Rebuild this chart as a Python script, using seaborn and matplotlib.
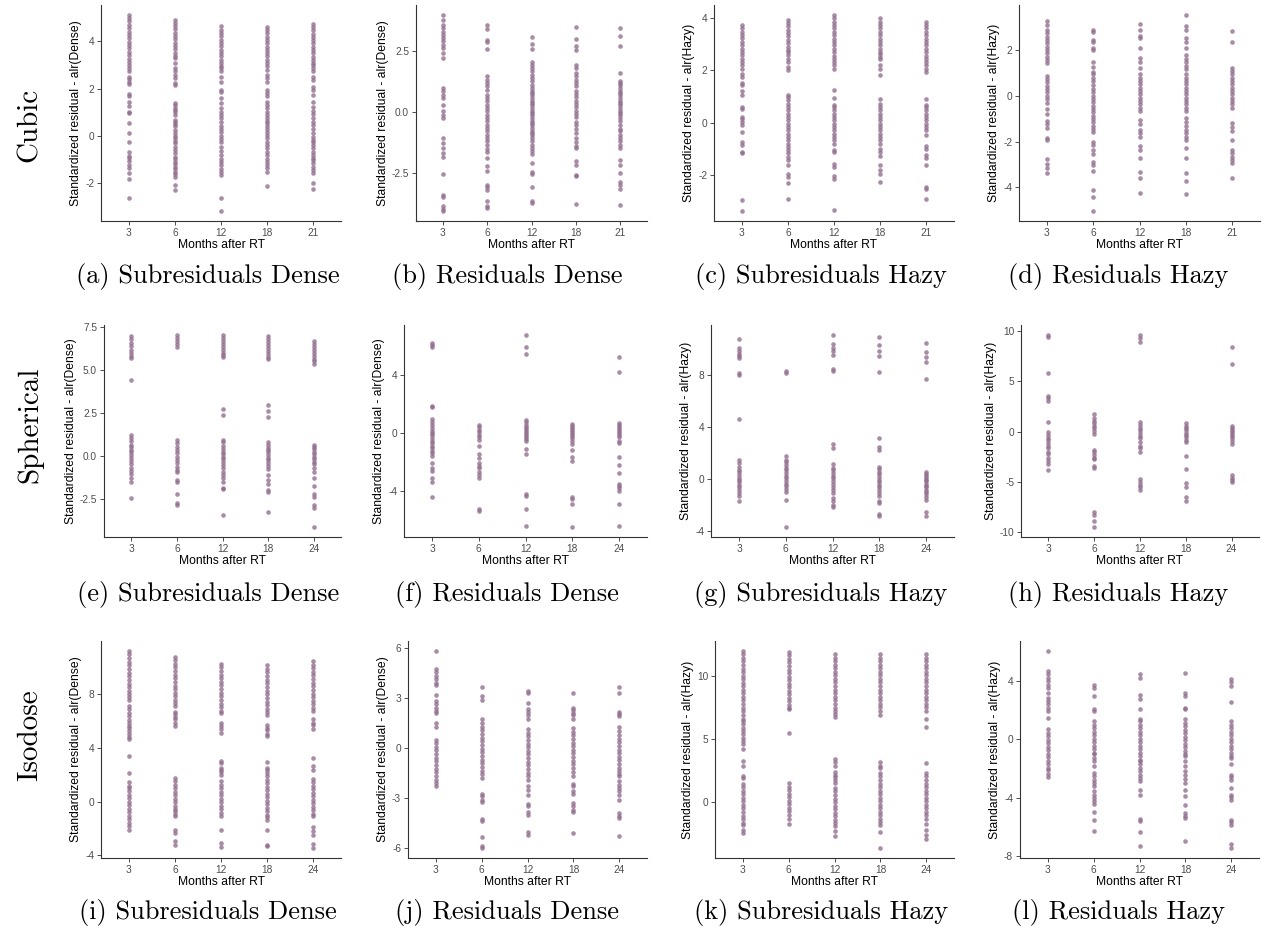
import pandas as pd
import seaborn as sns
import matplotlib.pyplot as plt

# categories
months_cubic = ["3", "6", "12", "18", "21"]
months_other = ["3", "6", "12", "18", "24"]
row_names = ["Cubic", "Spherical", "Isodose"]
captions = ["(a) Subresiduals Dense", "(b) Residuals Dense", "(c) Subresiduals Hazy", "(d) Residuals Hazy",
            "(e) Subresiduals Dense", "(f) Residuals Dense", "(g) Subresiduals Hazy", "(h) Residuals Hazy",
            "(i) Subresiduals Dense", "(j) Residuals Dense", "(k) Subresiduals Hazy", "(l) Residuals Hazy"]

# y tick labels per panel
yticks_list = [[-2, 0, 2, 4], [-2.5, 0.0, 2.5], [-2, 0, 2, 4], [-4, -2, 0, 2],
               [-2.5, 0.0, 2.5, 5.0, 7.5], [-4, 0, 4], [-4, 0, 4, 8], [-10, -5, 0, 5, 10],
               [-4, 0, 4, 8], [-6, -3, 0, 3, 6], [0, 5, 10], [-8, -4, 0, 4]]

# standardized residuals, one list per month
cubic_sub_dense = [
    [5.12, 4.98, 4.85, 4.7, 4.56, 4.41, 4.27, 4.12, 3.98, 3.84, 3.7, 3.55, 3.41, 3.27, 3.12, 2.98, 2.87,
     2.73, 2.5, 2.4, 2.3, 2.2, 1.77, 1.67, 1.45, 1.27, 1.03, 0.96, 0.54, 0.11, -0.24, -0.66, -0.83, -0.95,
     -1.06, -1.23, -1.37, -1.55, -1.84, -2.61],
    [4.92, 4.78, 4.64, 4.5, 4.36, 4.22, 4.08, 3.94, 3.8, 3.66, 3.52, 3.4, 3.29, 3.08, 2.87, 2.73, 2.58, 2.47,
     2.23, 2.16, 1.41, 1.31, 1.2, 1.1, 1.0, 0.89, 0.68, 0.61, 0.49, 0.4, 0.25, 0.11, 0.01, -0.1, -0.21, -0.31,
     -0.45, -0.59, -0.73, -0.88, -0.97, -1.09, -1.2, -1.3, -1.4, -1.51, -1.62, -1.72, -2.08, -2.29],
    [4.63, 4.49, 4.35, 4.21, 4.07, 3.93, 3.79, 3.65, 3.51, 3.37, 3.23, 3.09, 2.97, 2.87, 2.73, 2.51, 2.3, 1.95,
     1.85, 1.6, 1.38, 1.17, 1.03, 0.89, 0.75, 0.58, 0.4, 0.3, 0.16, 0.01, -0.13, -0.27, -0.45, -0.64, -0.81,
     -0.97, -1.09, -1.23, -1.4, -1.51, -1.65, -2.61, -3.18],
    [4.62, 4.48, 4.34, 4.2, 4.06, 3.92, 3.78, 3.64, 3.5, 3.36, 3.22, 3.08, 2.94, 2.8, 2.58, 2.44, 2.27, 1.95,
     1.81, 1.67, 1.45, 1.31, 1.17, 1.0, 0.89, 0.75, 0.64, 0.54, 0.44, 0.3, 0.18, 0.04, -0.1, -0.24, -0.38,
     -0.52, -0.66, -0.81, -0.97, -1.09, -1.23, -1.37, -1.51, -2.12],
    [4.75, 4.61, 4.47, 4.33, 4.19, 4.05, 3.91, 3.77, 3.63, 3.49, 3.35, 3.21, 3.09, 3.0, 2.87, 2.73, 2.51, 2.37,
     2.09, 1.95, 1.74, 1.45, 1.24, 1.06, 0.92, 0.75, 0.61, 0.47, 0.3, 0.11, -0.03, -0.17, -0.27, -0.38, -0.52,
     -0.66, -0.81, -0.92, -1.02, -1.16, -1.3, -1.44, -1.58, -2.0, -2.25],
]
cubic_res_dense = [
    [4.01, 3.8, 3.6, 3.46, 3.32, 3.19, 3.05, 2.91, 2.77, 2.64, 2.43, 2.23, 0.99, 0.88, 0.71, 0.58, 0.3, 0.05,
     -0.11, -0.25, -1.07, -1.28, -1.48, -1.69, -1.87, -2.55, -3.41, -3.52, -3.89, -3.98, -4.09],
    [3.6, 3.43, 2.98, 2.88, 2.61, 1.47, 1.33, 1.2, 1.06, 0.92, 0.71, 0.58, 0.44, 0.3, 0.16, 0.03, -0.11, -0.25,
     -0.38, -0.52, -0.66, -0.8, -0.93, -1.07, -1.21, -1.35, -1.51, -1.65, -1.9, -2.24, -2.42, -2.99, -3.1,
     -3.2, -3.68, -3.89, -3.96],
    [3.08, 2.8, 2.6, 2.06, 1.95, 1.81, 1.68, 1.54, 1.4, 1.26, 1.13, 0.99, 0.88, 0.78, 0.69, 0.58, 0.47, 0.37,
     0.27, 0.16, 0.05, -0.04, -0.14, -0.25, -0.36, -0.45, -0.55, -0.66, -0.77, -0.87, -0.96, -1.07, -1.21,
     -1.35, -1.48, -1.62, -1.73, -2.1, -2.47, -2.55, -3.1, -3.68, -3.75],
    [3.49, 3.02, 2.71, 2.57, 1.95, 1.81, 1.61, 1.47, 1.33, 1.2, 1.06, 0.88, 0.74, 0.6, 0.47, 0.33, 0.19, 0.05,
     -0.08, -0.22, -0.41, -0.55, -0.69, -0.87, -1.07, -1.24, -1.41, -1.48, -2.03, -2.2, -2.58, -2.65, -3.79],
    [3.46, 3.12, 2.71, 1.61, 1.29, 1.2, 1.1, 0.99, 0.88, 0.78, 0.69, 0.58, 0.47, 0.37, 0.27, 0.16, 0.05, -0.04,
     -0.14, -0.25, -0.38, -0.52, -0.69, -0.8, -0.93, -1.07, -1.21, -1.35, -1.48, -1.96, -2.17, -2.51, -2.88,
     -2.99, -3.16, -3.85],
]
cubic_sub_hazy = [
    [3.75, 3.62, 3.49, 3.36, 3.23, 3.1, 2.97, 2.84, 2.71, 2.58, 2.45, 2.32, 2.19, 2.06, 1.87, 1.75, 1.53, 1.43,
     1.2, 1.07, 0.6, 0.51, 0.22, 0.13, 0.03, -0.08, -0.36, -0.74, -0.84, -1.12, -1.18, -2.97, -3.39],
    [3.95, 3.82, 3.69, 3.56, 3.43, 3.3, 3.17, 3.04, 2.91, 2.8, 2.7, 2.6, 2.45, 2.34, 2.13, 2.0, 1.07, 0.98,
     0.85, 0.73, 0.6, 0.47, 0.34, 0.22, 0.09, -0.04, -0.17, -0.29, -0.42, -0.55, -0.68, -0.8, -0.93, -1.06,
     -1.18, -1.31, -1.44, -1.61, -1.95, -2.08, -2.31, -2.93],
    [4.13, 4.0, 3.87, 3.74, 3.61, 3.48, 3.35, 3.22, 3.09, 2.96, 2.83, 2.7, 2.57, 2.45, 2.32, 2.2, 2.06, 1.24,
     0.94, 0.69, 0.6, 0.47, 0.34, 0.22, 0.09, -0.04, -0.17, -0.29, -0.42, -0.55, -0.68, -0.8, -1.06, -1.12,
     -1.57, -1.69, -2.04, -2.17, -3.35],
    [4.0, 3.87, 3.74, 3.61, 3.48, 3.35, 3.22, 3.09, 2.96, 2.83, 2.72, 2.64, 2.51, 2.42, 2.19, 2.06, 1.81, 0.89,
     0.73, 0.6, 0.47, 0.34, 0.22, 0.09, -0.04, -0.17, -0.29, -0.42, -0.55, -0.68, -0.8, -0.99, -1.12, -1.27,
     -1.61, -1.82, -1.95, -2.27],
    [3.87, 3.74, 3.61, 3.48, 3.35, 3.22, 3.09, 2.96, 2.83, 2.7, 2.57, 2.45, 2.32, 2.22, 2.06, 1.94, 0.89, 0.69,
     0.6, 0.47, 0.34, 0.22, 0.09, -0.04, -0.17, -0.29, -0.48, -0.89, -0.99, -1.22, -1.35, -1.63, -2.46, -2.55,
     -2.93],
]
cubic_res_hazy = [
    [3.28, 3.11, 2.89, 2.74, 2.6, 2.45, 2.31, 2.16, 2.01, 1.87, 1.72, 1.58, 1.43, 0.89, 0.74, 0.6, 0.45, 0.31,
     0.16, 0.01, -0.13, -0.32, -0.57, -0.8, -1.09, -1.24, -1.39, -1.82, -1.93, -2.76, -2.99, -3.14, -3.39],
    [2.89, 2.82, 2.45, 2.38, 2.12, 2.01, 1.47, 1.28, 1.06, 0.95, 0.8, 0.66, 0.48, 0.31, 0.16, 0.01, -0.13,
     -0.28, -0.42, -0.57, -0.72, -0.86, -1.01, -1.15, -1.3, -1.45, -1.59, -2.03, -2.15, -2.36, -2.55, -2.91,
     -3.02, -3.28, -4.12, -4.41, -5.04],
    [3.14, 2.89, 2.64, 2.55, 2.09, 1.65, 1.5, 1.24, 0.95, 0.8, 0.66, 0.51, 0.36, 0.22, 0.07, -0.07, -0.22,
     -0.36, -0.51, -0.66, -1.05, -1.24, -1.49, -1.64, -1.79, -2.18, -2.36, -2.73, -3.31, -3.58, -4.23],
    [3.55, 3.04, 2.89, 2.53, 2.38, 2.12, 1.8, 1.62, 1.47, 1.33, 1.18, 0.95, 0.8, 0.66, 0.51, 0.36, 0.22, 0.07,
     -0.07, -0.22, -0.36, -0.51, -0.66, -0.95, -1.12, -1.3, -1.49, -1.64, -1.79, -1.93, -2.26, -2.73, -3.39,
     -3.71, -4.31],
    [2.85, 2.38, 1.24, 1.09, 0.95, 0.8, 0.66, 0.51, 0.36, 0.22, 0.07, -0.07, -0.22, -0.36, -0.54, -1.2, -1.34,
     -1.53, -1.93, -2.36, -2.51, -2.66, -2.8, -2.95, -3.58],
]
sph_sub_dense = [
    [7.0, 6.8, 6.6, 6.4, 6.2, 6.0, 5.85, 5.7, 4.41, 1.23, 1.08, 0.89, 0.69, 0.56, 0.37, 0.23, 0.08, -0.08,
     -0.27, -0.46, -0.66, -0.85, -1.04, -1.23, -1.46, -2.39],
    [7.05, 6.88, 6.7, 6.52, 6.35, 0.94, 0.75, 0.56, 0.37, 0.17, -0.02, -0.21, -0.4, -0.6, -0.79, -0.92, -1.37,
     -1.5, -2.2, -2.72, -2.85],
    [7.07, 6.9, 6.72, 6.55, 6.38, 6.2, 6.02, 5.88, 5.76, 2.77, 2.43, 0.94, 0.81, 0.62, 0.42, 0.27, 0.12, -0.02,
     -0.15, -0.31, -0.5, -0.69, -0.89, -1.08, -1.27, -1.46, -1.81, -1.89, -3.39],
    [6.97, 6.8, 6.62, 6.45, 6.28, 6.1, 5.92, 5.78, 5.66, 3.01, 2.62, 2.29, 0.81, 0.66, 0.5, 0.37, 0.23, 0.08,
     -0.08, -0.23, -0.39, -0.54, -0.73, -1.08, -1.37, -1.62, -1.95, -2.04, -3.2],
    [6.72, 6.55, 6.38, 6.2, 6.02, 5.85, 5.68, 5.52, 5.38, 0.69, 0.56, 0.42, 0.27, 0.12, -0.02, -0.15, -0.31,
     -0.46, -0.66, -0.89, -1.23, -1.7, -2.2, -2.33, -2.81, -2.97, -4.12],
]
sph_res_dense = [
    [6.26, 6.08, 5.92, 1.9, 1.77, 0.96, 0.76, 0.53, 0.34, 0.16, 0.0, -0.16, -0.34, -0.53, -0.71, -0.87, -1.03,
     -1.22, -1.38, -1.61, -2.06, -2.41, -2.64, -3.1, -3.37, -4.43],
    [0.53, 0.39, 0.23, 0.07, -0.11, -0.3, -0.48, -0.92, -1.49, -1.72, -2.06, -2.29, -2.45, -2.68, -2.91, -3.1,
     -5.28, -5.39],
    [6.81, 5.96, 5.46, 0.92, 0.76, 0.57, 0.44, 0.3, 0.16, 0.02, -0.11, -0.25, -0.39, -0.53, -1.08, -1.44, -4.2,
     -4.36, -5.28, -6.47],
    [0.64, 0.5, 0.37, 0.23, 0.09, -0.05, -0.18, -0.34, -0.53, -0.76, -1.15, -1.67, -1.95, -4.43, -4.59, -4.93,
     -6.54],
    [5.28, 4.2, 0.69, 0.55, 0.41, 0.28, 0.14, 0.0, -0.14, -0.3, -0.53, -0.67, -1.67, -2.22, -2.75, -3.51, -3.67,
     -3.83, -4.01, -4.93, -6.47],
]
sph_sub_hazy = [
    [10.77, 10.05, 9.8, 9.62, 9.44, 9.29, 8.09, 7.96, 4.57, 1.45, 1.2, 0.94, 0.69, 0.51, 0.31, 0.1, -0.08,
     -0.26, -0.46, -0.66, -0.87, -1.1, -1.35, -1.73],
    [8.27, 8.09, 1.79, 1.45, 1.28, 1.07, 0.87, 0.66, 0.46, 0.26, 0.05, -0.15, -0.36, -0.56, -0.77, -0.97,
     -1.61, -3.72],
    [11.07, 10.38, 10.05, 9.8, 9.54, 8.47, 8.27, 2.65, 2.4, 1.12, 0.87, 0.66, 0.46, 0.26, 0.05, -0.15, -0.36,
     -0.59, -0.84, -1.1, -1.43, -1.73, -1.99, -2.12],
    [10.89, 10.26, 9.8, 9.44, 8.21, 3.16, 2.47, 2.22, 0.94, 0.77, 0.56, 0.36, 0.15, -0.05, -0.26, -0.46, -0.66,
     -0.87, -1.1, -1.35, -1.68, -1.86, -2.7, -2.88],
    [10.46, 9.74, 9.36, 8.98, 7.65, 0.56, 0.41, 0.26, 0.1, -0.05, -0.2, -0.36, -0.51, -0.66, -0.82, -0.97,
     -1.17, -1.38, -1.61, -2.55, -2.88],
]
sph_res_hazy = [
    [9.64, 9.41, 5.87, 3.53, 3.3, 3.04, 0.92, -0.07, -0.33, -0.59, -0.86, -1.12, -1.39, -1.65, -1.98, -2.24,
     -2.57, -2.9, -3.23, -3.8],
    [1.72, 1.39, 1.06, 0.83, 0.59, 0.33, 0.07, -0.2, -1.82, -2.05, -2.31, -2.57, -2.71, -3.37, -3.56, -7.99,
     -8.25, -8.84, -9.5],
    [9.57, 9.31, 8.91, 0.92, 0.66, 0.4, 0.13, -0.13, -0.4, -0.66, -0.99, -1.39, -1.65, -1.98, -4.69, -4.95,
     -5.28, -5.54, -5.78],
    [0.83, 0.59, 0.36, 0.13, -0.1, -0.33, -0.56, -0.79, -1.06, -2.38, -3.7, -5.12, -5.54, -6.53, -6.86],
    [8.38, 6.77, 0.56, 0.36, 0.17, -0.03, -0.23, -0.43, -0.66, -0.92, -1.19, -4.29, -4.55, -4.79, -5.02],
]
iso_sub_dense = [
    [11.22, 10.95, 10.68, 10.41, 10.14, 9.87, 9.6, 9.33, 9.06, 8.79, 8.52, 8.25, 7.98, 7.75, 7.56, 7.11, 6.86,
     6.61, 6.36, 6.11, 5.86, 5.66, 5.5, 5.25, 5.05, 4.83, 4.68, 3.38, 2.14, 1.44, 1.19, 1.02, 0.76, 0.5, 0.24,
     -0.02, -0.28, -0.54, -0.8, -1.06, -1.32, -1.58, -1.84, -2.14],
    [10.8, 10.53, 10.26, 9.99, 9.72, 9.45, 9.18, 8.91, 8.64, 8.37, 8.1, 7.83, 7.56, 7.32, 7.11, 6.67, 6.49,
     6.32, 6.12, 5.87, 5.62, 1.77, 1.51, 1.25, 0.99, 0.73, 0.47, 0.21, -0.05, -0.31, -0.55, -0.72, -0.9, -1.09,
     -2.14, -2.34, -2.96, -3.21],
    [10.27, 10.0, 9.73, 9.46, 9.19, 8.92, 8.65, 8.38, 8.11, 7.84, 7.57, 7.3, 7.03, 6.78, 6.57, 5.82, 5.62, 5.42,
     5.12, 3.01, 2.84, 2.51, 2.34, 2.19, 2.01, 1.52, 1.26, 1.0, 0.74, 0.48, 0.22, -0.04, -0.3, -0.56, -0.82,
     -1.09, -2.14, -3.08, -3.38],
    [10.15, 9.88, 9.61, 9.34, 9.07, 8.8, 8.53, 8.26, 7.99, 7.72, 7.45, 7.18, 6.91, 6.66, 6.42, 5.67, 5.5, 5.32,
     5.07, 4.88, 2.94, 2.51, 2.34, 2.14, 1.94, 1.64, 1.38, 1.12, 0.86, 0.6, 0.34, 0.08, -0.18, -0.44, -0.7,
     -0.96, -1.18, -1.34, -2.14, -3.21, -3.28],
    [10.47, 10.2, 9.93, 9.66, 9.39, 9.12, 8.85, 8.58, 8.31, 8.04, 7.77, 7.5, 7.23, 6.98, 6.74, 6.12, 5.87, 5.67,
     5.42, 3.26, 2.64, 2.39, 1.69, 1.43, 1.17, 0.91, 0.65, 0.39, 0.13, -0.13, -0.39, -0.65, -0.89, -1.09,
     -1.89, -2.21, -2.46, -3.13, -3.46],
]
iso_res_dense = [
    [5.84, 4.78, 4.56, 4.34, 4.14, 3.94, 3.78, 3.17, 2.83, 2.63, 2.43, 2.23, 2.13, 1.49, 1.29, 0.52, 0.3, 0.08,
     -0.14, -0.36, -0.58, -0.8, -1.02, -1.24, -1.46, -1.68, -1.9, -2.1, -2.29],
    [3.69, 3.13, 2.89, 1.73, 1.51, 1.29, 1.07, 0.85, 0.63, 0.41, 0.19, -0.03, -0.25, -0.47, -0.69, -0.91,
     -1.13, -1.35, -1.57, -1.79, -2.73, -2.89, -3.09, -3.25, -4.26, -4.4, -5.34, -5.9, -6.0],
    [3.43, 3.29, 2.69, 2.33, 2.17, 1.97, 1.73, 1.16, 0.94, 0.72, 0.5, 0.28, 0.06, -0.16, -0.38, -0.6, -0.82,
     -1.04, -1.26, -1.48, -1.69, -1.93, -2.25, -2.53, -2.79, -3.33, -3.45, -3.86, -4.0, -5.06, -5.2],
    [3.33, 2.43, 2.29, 2.13, 1.97, 1.73, 1.22, 1.0, 0.78, 0.56, 0.34, 0.12, -0.1, -0.32, -0.54, -0.76, -0.98,
     -1.2, -1.42, -1.65, -2.13, -2.29, -2.59, -2.73, -3.29, -3.49, -3.69, -3.86, -5.1],
    [3.69, 3.29, 2.17, 2.03, 1.93, 1.29, 1.02, 0.8, 0.58, 0.36, 0.14, -0.08, -0.3, -0.52, -0.74, -0.96, -1.18,
     -1.4, -1.58, -1.69, -1.99, -2.19, -2.39, -2.59, -2.79, -3.09, -3.9, -4.06, -4.2, -5.3],
]
iso_sub_hazy = [
    [11.98, 11.7, 11.42, 11.14, 10.86, 10.58, 10.3, 10.02, 9.74, 9.46, 9.18, 8.9, 8.62, 8.34, 8.06, 7.78, 7.5,
     7.22, 6.94, 6.61, 6.43, 6.16, 5.9, 5.63, 5.37, 5.11, 4.84, 4.58, 4.23, 3.25, 2.86, 2.12, 1.93, 1.48, 1.2,
     0.92, 0.64, 0.36, 0.08, -0.2, -0.48, -0.76, -1.04, -1.32, -1.6, -1.77, -2.17, -2.43],
    [11.9, 11.62, 11.34, 11.06, 10.78, 10.5, 10.22, 9.94, 9.66, 9.38, 9.1, 8.82, 8.54, 8.26, 7.98, 7.7, 7.5,
     7.35, 5.45, 1.53, 1.25, 0.97, 0.69, 0.41, 0.13, -0.15, -0.43, -0.71, -0.99, -1.32, -1.69],
    [11.72, 11.44, 11.16, 10.88, 10.6, 10.32, 10.04, 9.76, 9.48, 9.2, 8.92, 8.64, 8.36, 8.08, 7.8, 7.49, 7.22,
     6.96, 6.77, 3.39, 3.17, 2.91, 2.38, 2.2, 2.01, 1.8, 1.53, 1.14, 0.86, 0.58, 0.3, 0.02, -0.26, -0.54,
     -0.82, -1.1, -1.38, -1.66, -1.9, -2.3, -2.65],
    [11.72, 11.44, 11.16, 10.88, 10.6, 10.32, 10.04, 9.76, 9.48, 9.2, 8.92, 8.64, 8.36, 8.08, 7.8, 7.52, 7.24,
     6.88, 3.17, 2.91, 2.72, 2.33, 2.05, 1.77, 1.49, 1.21, 0.93, 0.65, 0.37, 0.09, -0.19, -0.47, -0.75, -1.03,
     -1.31, -1.59, -1.77, -2.38, -3.62],
    [11.72, 11.44, 11.16, 10.88, 10.6, 10.32, 10.04, 9.76, 9.48, 9.2, 8.92, 8.64, 8.36, 8.08, 7.8, 7.52, 7.22,
     6.61, 5.98, 3.12, 2.33, 2.05, 1.77, 1.49, 1.21, 0.93, 0.65, 0.37, 0.09, -0.19, -0.47, -0.75, -1.03,
     -1.31, -1.69, -2.17, -2.57, -2.91],
]
iso_res_hazy = [
    [6.09, 4.71, 4.47, 4.23, 3.99, 3.75, 3.51, 3.22, 2.87, 2.64, 2.41, 2.18, 1.95, 1.49, 0.69, 0.45, 0.21,
     -0.03, -0.27, -0.51, -0.75, -0.99, -1.23, -1.47, -1.71, -1.95, -2.07, -2.34, -2.57],
    [3.72, 3.56, 2.99, 2.07, 1.95, 1.26, 1.02, 0.78, 0.54, 0.3, 0.06, -0.18, -0.42, -0.66, -0.9, -1.03, -1.26,
     -1.49, -1.79, -2.3, -2.53, -2.76, -2.99, -3.22, -3.56, -3.79, -4.02, -4.25, -4.41, -5.01, -5.52, -6.28],
    [4.48, 4.25, 3.03, 2.8, 2.11, 1.38, 1.26, 1.02, 0.78, 0.54, 0.3, 0.06, -0.18, -0.42, -0.66, -0.9, -1.14,
     -1.38, -1.49, -1.72, -1.95, -2.18, -2.41, -2.64, -2.87, -3.45, -3.79, -5.47, -5.63, -6.39, -7.31],
    [4.55, 3.17, 2.99, 2.18, 2.07, 1.38, 1.14, 0.9, 0.66, 0.42, 0.18, -0.06, -0.3, -0.54, -0.78, -1.02, -1.15,
     -1.49, -1.79, -2.18, -2.41, -2.71, -2.99, -3.45, -3.86, -4.48, -5.06, -5.24, -5.4, -7.01],
    [4.14, 3.95, 3.68, 2.57, 1.26, 1.02, 0.78, 0.54, 0.3, 0.06, -0.18, -0.42, -0.66, -0.9, -1.14, -1.26, -1.72,
     -2.41, -2.57, -2.76, -3.33, -3.79, -3.95, -4.14, -5.52, -5.7, -5.86, -7.17, -7.47],
]

panel_data = [cubic_sub_dense, cubic_res_dense, cubic_sub_hazy, cubic_res_hazy,
              sph_sub_dense, sph_res_dense, sph_sub_hazy, sph_res_hazy,
              iso_sub_dense, iso_res_dense, iso_sub_hazy, iso_res_hazy]

sns.set_style("ticks")
plt.rcParams["font.family"] = ["Liberation Sans", "DejaVu Sans"]
plt.rcParams["axes.unicode_minus"] = False
plt.rcParams["text.color"] = "black"
plt.rcParams["axes.labelcolor"] = "black"

W, H = 1264, 932
fig = plt.figure(figsize=(W / 100, H / 100), dpi=100)

# axes boxes in pixels: (left, right) per panel, (top, bottom) per row
col_edges = [[(101, 341), (416, 647), (714, 954), (1019, 1260)],
             [(104, 341), (404, 647), (711, 954), (1021, 1259)],
             [(101, 341), (408, 647), (715, 954), (1020, 1259)]]
row_edges = [(5, 221), (325, 537), (641, 858)]
caption_x = [208, 507, 821, 1118]
caption_y = [276, 594, 912]
rowlabel_y = [125, 425, 735]

purple = "#926A8D"

for i, vals in enumerate(panel_data):
    r, c = divmod(i, 4)
    months = months_cubic if r == 0 else months_other
    left, right = col_edges[r][c]
    top, bottom = row_edges[r]
    ax = fig.add_axes([left / W, 1 - bottom / H, (right - left) / W, (bottom - top) / H])

    df = pd.DataFrame([(m, v) for m, col in zip(months, vals) for v in col], columns=["month", "value"])
    sns.stripplot(data=df, x="month", y="value", order=months, jitter=False, color=purple,
                  size=3.3, alpha=0.78, linewidth=0, ax=ax)

    lo, hi = df["value"].min(), df["value"].max()
    pad = (hi - lo) * 0.05
    ax.set_ylim(lo - pad, hi + pad)
    ax.set_xlim(-0.6, len(months) - 0.4)

    ticks = yticks_list[i]
    ax.set_yticks(ticks)
    if any(t != int(t) for t in ticks):
        ax.set_yticklabels([f"{t:.1f}" for t in ticks])
    else:
        ax.set_yticklabels([f"{int(t)}" for t in ticks])

    ax.set_xlabel("Months after RT", fontsize=8.7, labelpad=1)
    ax.set_ylabel("Standardized residual - alr(" + ("Dense" if c < 2 else "Hazy") + ")",
                  fontsize=8.7, labelpad=2)
    ax.tick_params(length=3, width=0.6, color="#333333", labelcolor="#4D4D4D", labelsize=7.3, pad=2)
    sns.despine(ax=ax)
    for s in ["left", "bottom"]:
        ax.spines[s].set_color("#333333")
        ax.spines[s].set_linewidth(0.8)

    fig.text(caption_x[c] / W, 1 - caption_y[r] / H, captions[i], family="cmr10", fontsize=19,
             ha="center", va="center")

for r, name in enumerate(row_names):
    fig.text(30 / W, 1 - rowlabel_y[r] / H, name, family="cmr10", fontsize=21, rotation=90,
             ha="center", va="center")

fig.savefig("out.png", dpi=100)
